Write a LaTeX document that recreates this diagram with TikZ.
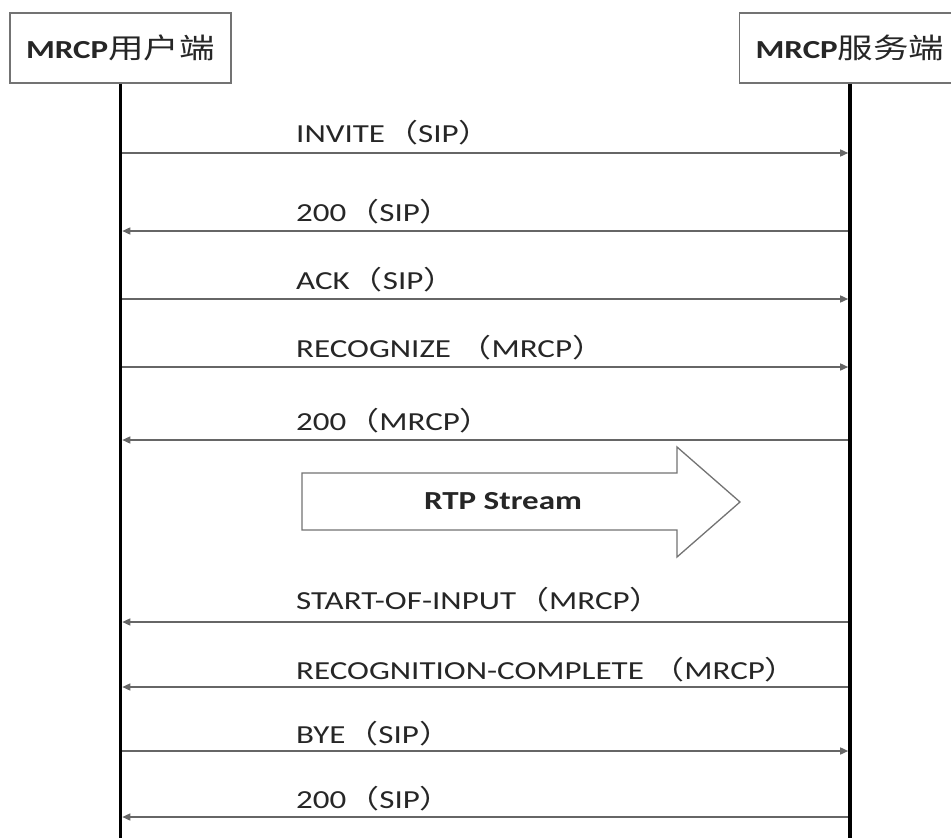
\documentclass[tikz,border=0pt]{standalone}
\usepackage{fontspec}
\setmainfont{Carlito}[FakeStretch=1.27]
\newfontfamily\cjk{Noto Sans CJK SC}[FakeStretch=1.27]
\usetikzlibrary{arrows.meta}
\newcommand\lpar{{\cjk （}}
\newcommand\rpar{{\cjk ）}}
\newcommand\boxcjk[1]{{\cjk\mdseries\fontsize{28}{33}\selectfont #1}}
\begin{document}
\begin{tikzpicture}[x=1pt,y=-1pt,
  actor/.style={draw=black!55,line width=1.4pt,fill=white,minimum width=221pt,minimum height=70pt,inner sep=0pt,
    font=\fontsize{26}{30}\selectfont\bfseries,text=black!85},
  lifeline/.style={line width=3.8pt,black},
  msg/.style={draw=black!60,line width=1.5pt,-{Triangle[length=8pt,width=7pt]},shorten >=1.8pt},
  lbl/.style={anchor=base west,inner sep=0pt,font=\fontsize{26}{30}\selectfont,text=black!85},
  bigarrow/.style={draw=black!55,line width=1.3pt,fill=white}]
\useasboundingbox (0,0) rectangle (951,838);
\clip (0,0) rectangle (951,838);
\fill[white] (0,0) rectangle (951,838);

% actors
\node[actor] (client) at (120.5,48) {MRCP\boxcjk{用户端}};
\node[actor] (server) at (850,48) {MRCP\boxcjk{服务端}};
\coordinate (cend) at (client.south |- 0,838);
\coordinate (send) at (server.south |- 0,838);

% message anchor points
\foreach \i/\y in {1/153,2/231,3/299,4/367,5/440,6/622,7/687,8/751,9/817}{
  \coordinate (c\i) at (client.south |- 0,\y);
  \coordinate (s\i) at (server.south |- 0,\y);
}

% messages
\draw[msg] (c1) -- (s1);
\draw[msg] (s2) -- (c2);
\draw[msg] (c3) -- (s3);
\draw[msg] (c4) -- (s4);
\draw[msg] (s5) -- (c5);
\draw[msg] (s6) -- (c6);
\draw[msg] (s7) -- (c7);
\draw[msg] (c8) -- (s8);
\draw[msg] (s9) -- (c9);

% labels
\node[lbl] (l1) at (296,142) {INVITE\lpar SIP\rpar};
\node[lbl] (l2) at (296,221) {200\lpar SIP\rpar};
\node[lbl] (l3) at (296,289) {ACK\lpar SIP\rpar};
\node[lbl] (l4) at (296,357) {RECOGNIZE \lpar MRCP\rpar};
\node[lbl] (l5) at (296,430) {200\lpar MRCP\rpar};
\node[lbl] (l6) at (296,609) {START-OF-INPUT\lpar MRCP\rpar};
\node[lbl] (l7) at (296,679) {RECOGNITION-COMPLETE \lpar MRCP\rpar};
\node[lbl] (l8) at (296,743) {BYE\lpar SIP\rpar};
\node[lbl] (l9) at (296,808) {200\lpar SIP\rpar};

% RTP stream arrow
\draw[bigarrow] (302,473) -- (677,473) -- (677,447) -- (740,502) -- (677,557) -- (677,530) -- (302,530) -- cycle;
\node[font=\fontsize{26}{30}\selectfont\bfseries,text=black!85,inner sep=0pt] (rtp) at (503,501) {RTP Stream};

% lifelines
\draw[lifeline] (client.south) -- (cend);
\draw[lifeline] (server.south) -- (send);
\end{tikzpicture}
\end{document}
